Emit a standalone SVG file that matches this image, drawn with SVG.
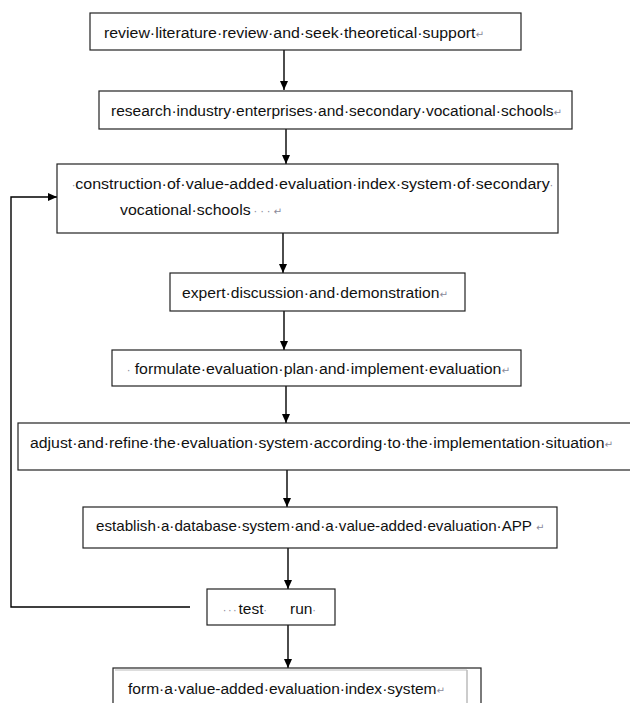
<svg xmlns="http://www.w3.org/2000/svg" width="630" height="703" viewBox="0 0 630 703">
<defs>
<marker id="ah" markerWidth="10" markerHeight="10" refX="9" refY="5" orient="auto" markerUnits="userSpaceOnUse">
<path d="M0,1 L9,5 L0,9 Z" fill="#000"/>
</marker>
<style>
.box{fill:#fff;stroke:#222;stroke-width:1.2}
.t{font-family:"Liberation Sans",Arial,sans-serif;font-size:15.5px;fill:#111}
.m{fill:#8a8a9a;font-size:10px;font-family:"DejaVu Sans",sans-serif}
.c{stroke:#000;stroke-width:1.4;fill:none}
</style>
</defs>
<rect width="630" height="703" fill="#fff"/>
<g id="connectors">
<line class="c" x1="284" y1="50" x2="284" y2="90" marker-end="url(#ah)"/>
<line class="c" x1="286" y1="129" x2="286" y2="164" marker-end="url(#ah)"/>
<line class="c" x1="283" y1="233" x2="283" y2="273" marker-end="url(#ah)"/>
<line class="c" x1="284" y1="311" x2="284" y2="350" marker-end="url(#ah)"/>
<line class="c" x1="286" y1="386" x2="286" y2="423" marker-end="url(#ah)"/>
<line class="c" x1="287" y1="470" x2="287" y2="507" marker-end="url(#ah)"/>
<line class="c" x1="288" y1="548" x2="288" y2="589" marker-end="url(#ah)"/>
<line class="c" x1="288" y1="625" x2="288" y2="668" marker-end="url(#ah)"/>
<polyline class="c" points="190,607 11,607 11,197 57,197" marker-end="url(#ah)"/>
</g>
<g id="n1">
<rect class="box" x="90" y="13" width="431" height="37"/>
<text class="t" x="104" y="38" textLength="380" lengthAdjust="spacingAndGlyphs">review·literature·review·and·seek·theoretical·support<tspan class="m">↵</tspan></text>
</g>
<g id="n2">
<rect class="box" x="99" y="91" width="473" height="38"/>
<text class="t" x="111" y="116" textLength="451" lengthAdjust="spacingAndGlyphs">research·industry·enterprises·and·secondary·vocational·schools<tspan class="m">↵</tspan></text>
</g>
<g id="n3">
<rect class="box" x="57" y="164" width="501" height="69"/>
<text class="t" x="72" y="189" textLength="481" lengthAdjust="spacingAndGlyphs"><tspan class="m">·</tspan>construction·of·value-added·evaluation·index·system·of·secondary<tspan class="m">·</tspan></text>
<text class="t" x="120" y="215" textLength="162" lengthAdjust="spacingAndGlyphs">vocational·schools<tspan class="m"> · · · ↵</tspan></text>
</g>
<g id="n4">
<rect class="box" x="170" y="273" width="295" height="38"/>
<text class="t" x="182" y="298" textLength="266" lengthAdjust="spacingAndGlyphs">expert·discussion·and·demonstration<tspan class="m">↵</tspan></text>
</g>
<g id="n5">
<rect class="box" x="112" y="350" width="409" height="36"/>
<text class="t" x="127" y="374" textLength="383" lengthAdjust="spacingAndGlyphs"><tspan class="m">·</tspan> formulate·evaluation·plan·and·implement·evaluation<tspan class="m">↵</tspan></text>
</g>
<g id="n6">
<rect class="box" x="18" y="423" width="620" height="47"/>
<text class="t" x="30" y="448" textLength="583" lengthAdjust="spacingAndGlyphs">adjust·and·refine·the·evaluation·system·according·to·the·implementation·situation<tspan class="m">↵</tspan></text>
</g>
<g id="n7">
<rect class="box" x="83" y="507" width="474" height="41"/>
<text class="t" x="96" y="531" font-size="15" style="font-size:15px" textLength="436" lengthAdjust="spacingAndGlyphs">establish·a·database·system·and·a·value-added·evaluation·APP</text>
<text class="m" x="536" y="531">↵</text>
</g>
<g id="n8">
<rect class="box" x="207" y="589" width="128" height="36"/>
<text class="t" x="223" y="614"><tspan class="m" letter-spacing="2">···</tspan>test<tspan class="m">·</tspan></text>
<text class="t" x="290" y="614">run<tspan class="m">·</tspan></text>
</g>
<g id="n9">
<rect class="box" x="113" y="668" width="368" height="40"/>
<line x1="467" y1="670" x2="467" y2="703" stroke="#999" stroke-width="1"/>
<line x1="115" y1="670" x2="467" y2="670" stroke="#bbb" stroke-width="1"/>
<text class="t" x="128" y="694" textLength="317" lengthAdjust="spacingAndGlyphs">form·a·value-added·evaluation·index·system<tspan class="m">↵</tspan></text>
</g>
</svg>
